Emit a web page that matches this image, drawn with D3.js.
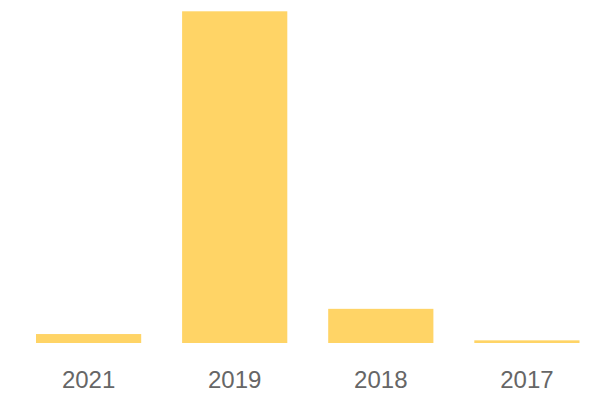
<!DOCTYPE html>
<html>
<head>
<meta charset="utf-8">
<script src="https://cdn.jsdelivr.net/npm/d3@7"></script>
<style>
    body { margin: 0; background: #fff; }
    #chart text { font-family: "Liberation Sans", Arial, sans-serif; }
</style>
</head>
<body>
<div id="chart"></div>
<script>
// Chart data
const years = ["2021", "2019", "2018", "2017"];
const counts = [27, 1000, 103, 8];

const width = 600;
const height = 400;

const svg = d3.select("#chart")
    .append("svg")
    .attr("width", width)
    .attr("height", height);

// Scales
const xScale = d3.scaleBand()
    .domain(years)
    .range([36, 579.5])
    .paddingInner(0.28)
    .paddingOuter(0);

const yScale = d3.scaleLinear()
    .domain([0, d3.max(counts)])
    .range([343, 11.3]);

// Bars
svg.selectAll(".bar")
    .data(years)
    .enter()
    .append("rect")
    .attr("class", "bar")
    .attr("x", d => xScale(d))
    .attr("y", (d, i) => yScale(counts[i]))
    .attr("width", xScale.bandwidth())
    .attr("height", (d, i) => yScale(0) - yScale(counts[i]))
    .attr("fill", "#FFD466");

// X axis, labels only
const xAxis = svg.append("g")
    .attr("transform", `translate(0,${yScale(0)})`)
    .call(d3.axisBottom(xScale).tickSize(0).tickPadding(28));

xAxis.select(".domain").remove();
xAxis.selectAll("text")
    .style("font-size", "24px")
    .style("fill", "#666666");
</script>
</body>
</html>
